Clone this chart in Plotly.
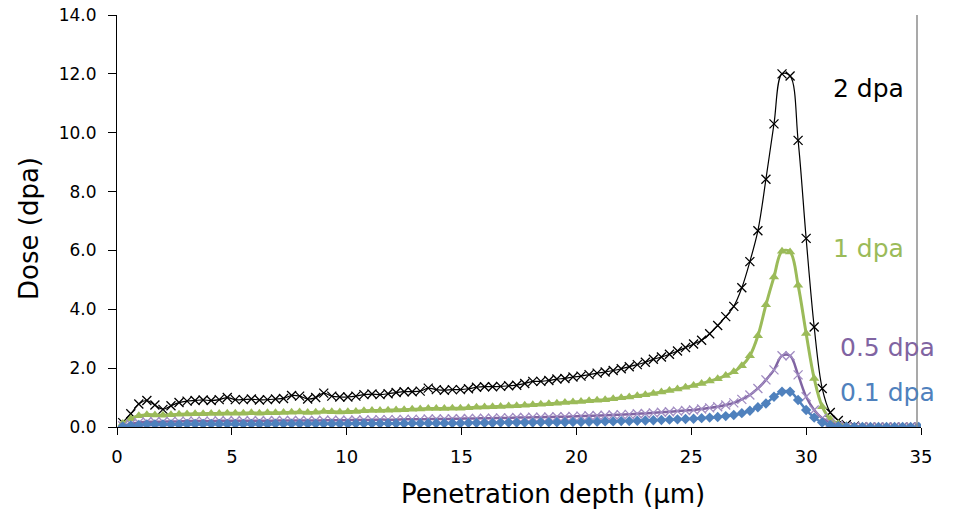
import plotly.graph_objects as go

depth_um = [0.25, 0.60, 0.95, 1.30, 1.65, 2.00, 2.35, 2.70, 3.05, 3.40,
            3.75, 4.10, 4.45, 4.80, 5.15, 5.50, 5.85, 6.20, 6.55, 6.90,
            7.25, 7.60, 7.95, 8.30, 8.65, 9.00, 9.35, 9.70, 10.05, 10.40,
            10.75, 11.10, 11.45, 11.80, 12.15, 12.50, 12.85, 13.20, 13.55, 13.90,
            14.25, 14.60, 14.95, 15.30, 15.65, 16.00, 16.35, 16.70, 17.05, 17.40,
            17.75, 18.10, 18.45, 18.80, 19.15, 19.50, 19.85, 20.20, 20.55, 20.90,
            21.25, 21.60, 21.95, 22.30, 22.65, 23.00, 23.35, 23.70, 24.05, 24.40,
            24.75, 25.10, 25.45, 25.80, 26.15, 26.50, 26.85, 27.20, 27.55, 27.90,
            28.25, 28.60, 28.95, 29.30, 29.65, 30.00, 30.35, 30.70, 31.05, 31.40,
            31.75, 32.10, 32.45, 32.80, 33.15, 33.50, 33.85, 34.20, 34.55, 34.90]

dose_2dpa = [0.15, 0.45, 0.78, 0.90, 0.75, 0.60, 0.72, 0.83, 0.88, 0.90,
             0.92, 0.90, 0.93, 1.00, 0.93, 0.93, 0.95, 0.92, 0.93, 0.95,
             0.97, 1.07, 1.05, 0.95, 1.00, 1.15, 1.05, 1.02, 1.02, 1.05,
             1.10, 1.12, 1.10, 1.13, 1.17, 1.20, 1.20, 1.22, 1.32, 1.27,
             1.25, 1.27, 1.27, 1.30, 1.35, 1.37, 1.37, 1.38, 1.40, 1.42,
             1.48, 1.55, 1.55, 1.58, 1.63, 1.65, 1.70, 1.73, 1.78, 1.83,
             1.87, 1.92, 1.98, 2.05, 2.12, 2.20, 2.30, 2.38, 2.47, 2.58,
             2.70, 2.82, 2.95, 3.17, 3.45, 3.75, 4.10, 4.73, 5.62, 6.67,
             8.42, 10.30, 12.00, 11.93, 9.74, 6.41, 3.40, 1.31, 0.49, 0.22,
             0.08, 0.03, 0.01, 0.0, 0.0, 0.0, 0.0, 0.0, 0.0, 0.0]

dose_1dpa = [0.12, 0.28, 0.38, 0.42, 0.41, 0.40, 0.42, 0.43, 0.44, 0.45,
             0.45, 0.46, 0.46, 0.47, 0.47, 0.47, 0.48, 0.47, 0.48, 0.48,
             0.49, 0.50, 0.51, 0.49, 0.50, 0.53, 0.52, 0.51, 0.52, 0.53,
             0.55, 0.56, 0.56, 0.57, 0.58, 0.59, 0.60, 0.61, 0.63, 0.63,
             0.63, 0.64, 0.64, 0.65, 0.67, 0.68, 0.69, 0.70, 0.71, 0.72,
             0.74, 0.76, 0.77, 0.79, 0.81, 0.83, 0.85, 0.87, 0.89, 0.91,
             0.93, 0.96, 0.99, 1.02, 1.06, 1.10, 1.14, 1.19, 1.24, 1.29,
             1.35, 1.41, 1.48, 1.56, 1.64, 1.75, 1.88, 2.08, 2.42, 3.10,
             4.15, 5.10, 5.97, 5.95, 4.82, 3.18, 1.65, 0.69, 0.27, 0.11,
             0.04, 0.015, 0.005, 0.0, 0.0, 0.0, 0.0, 0.0, 0.0, 0.0]

dose_05dpa = [0.04, 0.10, 0.15, 0.18, 0.18, 0.18, 0.19, 0.19, 0.20, 0.20,
              0.20, 0.20, 0.21, 0.21, 0.21, 0.21, 0.21, 0.21, 0.21, 0.22,
              0.22, 0.22, 0.22, 0.22, 0.22, 0.23, 0.23, 0.23, 0.23, 0.24,
              0.24, 0.24, 0.25, 0.25, 0.25, 0.26, 0.26, 0.26, 0.27, 0.27,
              0.27, 0.28, 0.28, 0.29, 0.29, 0.30, 0.30, 0.31, 0.31, 0.32,
              0.32, 0.33, 0.33, 0.34, 0.35, 0.35, 0.36, 0.37, 0.38, 0.39,
              0.40, 0.41, 0.42, 0.43, 0.45, 0.46, 0.48, 0.50, 0.52, 0.54,
              0.56, 0.58, 0.61, 0.65, 0.69, 0.75, 0.82, 0.94, 1.09, 1.31,
              1.60, 1.94, 2.42, 2.42, 1.77, 1.03, 0.58, 0.30, 0.15, 0.05,
              0.02, 0.01, 0.0, 0.0, 0.0, 0.0, 0.0, 0.0, 0.0, 0.0]

dose_01dpa = [0.02, 0.05, 0.07, 0.09, 0.09, 0.09, 0.09, 0.09, 0.10, 0.10,
              0.10, 0.10, 0.10, 0.10, 0.10, 0.10, 0.10, 0.10, 0.10, 0.11,
              0.11, 0.11, 0.11, 0.11, 0.11, 0.11, 0.11, 0.11, 0.11, 0.12,
              0.12, 0.12, 0.12, 0.12, 0.12, 0.12, 0.13, 0.13, 0.13, 0.13,
              0.13, 0.13, 0.13, 0.14, 0.14, 0.14, 0.14, 0.15, 0.15, 0.15,
              0.15, 0.15, 0.16, 0.16, 0.16, 0.16, 0.17, 0.17, 0.18, 0.18,
              0.19, 0.19, 0.20, 0.20, 0.21, 0.22, 0.23, 0.24, 0.25, 0.26,
              0.27, 0.28, 0.30, 0.32, 0.34, 0.37, 0.41, 0.47, 0.55, 0.67,
              0.80, 1.03, 1.20, 1.20, 0.92, 0.58, 0.32, 0.15, 0.07, 0.03,
              0.01, 0.0, 0.0, 0.0, 0.0, 0.0, 0.0, 0.0, 0.0, 0.0]

x_ticks = [0, 5, 10, 15, 20, 25, 30, 35]
y_ticks = [0, 2, 4, 6, 8, 10, 12, 14]
y_tick_text = ["0.0", "2.0", "4.0", "6.0", "8.0", "10.0", "12.0", "14.0"]

FONT = "DejaVu Sans"
BLACK = "#000000"
GREEN = "#9BBB59"
PURPLE = "#8064A2"
PURPLE_MK = "#A18CC2"
BLUE = "#4F81BD"

fig = go.Figure()

fig.add_trace(go.Scatter(
    x=depth_um, y=dose_2dpa, mode="lines+markers", line_shape="spline",
    line=dict(color=BLACK, width=1.2),
    marker=dict(symbol="x-thin", size=9, line=dict(color=BLACK, width=1.3)),
    name="2 dpa"))
fig.add_trace(go.Scatter(
    x=depth_um, y=dose_1dpa, mode="lines+markers", line_shape="spline",
    line=dict(color=GREEN, width=3),
    marker=dict(symbol="triangle-up", size=9, color=GREEN),
    name="1 dpa"))
fig.add_trace(go.Scatter(
    x=depth_um, y=dose_05dpa, mode="lines+markers", line_shape="spline",
    line=dict(color=PURPLE, width=2.5),
    marker=dict(symbol="x-thin", size=9, line=dict(color=PURPLE_MK, width=1.3)),
    name="0.5 dpa"))
fig.add_trace(go.Scatter(
    x=depth_um, y=dose_01dpa, mode="lines+markers", line_shape="spline",
    line=dict(color=BLUE, width=2.5),
    marker=dict(symbol="diamond", size=8, color=BLUE),
    name="0.1 dpa"))

L, R, T, B = 117, 32, 15, 86
W, H = 953, 513
PW, PH = W - L - R, H - T - B


def px(xp):
    return (xp - L) / PW


def py(yp):
    return (H - B - yp) / PH


fig.update_layout(
    width=W, height=H,
    margin=dict(l=L, r=R, t=T, b=B, pad=0, autoexpand=False),
    paper_bgcolor="white", plot_bgcolor="white",
    showlegend=False,
    font=dict(family=FONT, color="#000000"),
    xaxis=dict(range=[0, 35], tickvals=x_ticks, ticks="outside", ticklen=7,
               tickcolor="#000", tickwidth=1, showline=True, linecolor="#000",
               linewidth=1, showgrid=False, zeroline=False, automargin=False,
               tickfont=dict(size=18, family=FONT), ticklabelstandoff=6),
    yaxis=dict(range=[0, 14], tickvals=y_ticks, ticktext=y_tick_text,
               ticks="outside", ticklen=8, tickcolor="#000", tickwidth=1,
               showline=True, linecolor="#000", linewidth=1, showgrid=False,
               zeroline=False, automargin=False,
               tickfont=dict(size=17, family=FONT), ticklabelstandoff=8),
    shapes=[dict(type="line", xref="paper", yref="paper",
                 x0=px(917), x1=px(917), y0=py(15), y1=py(427),
                 line=dict(color="#8c8c8c", width=1.5))],
    annotations=[
        dict(text="Penetration depth (µm)", xref="paper", yref="paper",
             x=px(553), y=py(494), xanchor="center", yanchor="middle",
             showarrow=False, font=dict(size=26, family=FONT)),
        dict(text="Dose (dpa)", xref="paper", yref="paper",
             x=px(29), y=py(229), xanchor="center", yanchor="middle",
             textangle=-90, showarrow=False, font=dict(size=26, family=FONT)),
        dict(text="2 dpa", xref="paper", yref="paper", x=px(868), y=py(88),
             xanchor="center", yanchor="middle", showarrow=False,
             font=dict(size=25, family=FONT, color=BLACK)),
        dict(text="1 dpa", xref="paper", yref="paper", x=px(868), y=py(248),
             xanchor="center", yanchor="middle", showarrow=False,
             font=dict(size=25, family=FONT, color=GREEN)),
        dict(text="0.5 dpa", xref="paper", yref="paper", x=px(887), y=py(347),
             xanchor="center", yanchor="middle", showarrow=False,
             font=dict(size=25, family=FONT, color=PURPLE)),
        dict(text="0.1 dpa", xref="paper", yref="paper", x=px(887), y=py(392),
             xanchor="center", yanchor="middle", showarrow=False,
             font=dict(size=25, family=FONT, color=BLUE)),
    ],
)

fig.write_html("out.html")
